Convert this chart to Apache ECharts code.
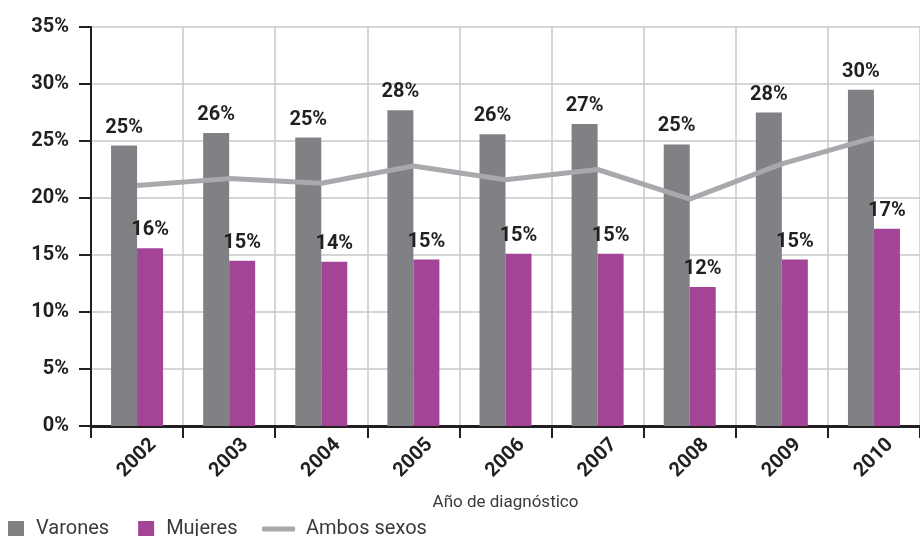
<!DOCTYPE html>
<html>
<head>
<meta charset="utf-8">
<script src="https://cdn.jsdelivr.net/npm/echarts@6/dist/echarts.min.js"></script>
<style>
  html, body { margin: 0; padding: 0; background: #fff; }
  #chart { width: 920px; height: 536px; }
</style>
</head>
<body>
<div id="chart"></div>
<script>
// datos
const years = ['2002', '2003', '2004', '2005', '2006', '2007', '2008', '2009', '2010']
const varones = [24.6, 25.7, 25.3, 27.7, 25.6, 26.5, 24.7, 27.5, 29.5]
const mujeres = [15.6, 14.5, 14.4, 14.6, 15.1, 15.1, 12.2, 14.6, 17.3]
const ambos = [21.1, 21.7, 21.3, 22.8, 21.6, 22.5, 19.9, 23.0, 25.3]
const yTicks = [0, 5, 10, 15, 20, 25, 30, 35]

const font = 'Roboto, "DejaVu Sans", sans-serif'
const dark = '#231f20'
const gridColor = '#c8c8ca'

const barLabel = {
  show: true,
  position: 'top',
  distance: 8,
  color: dark,
  fontFamily: font,
  fontWeight: 'bold',
  fontSize: 20,
  formatter: (p) => Math.round(p.value) + '%'
}

const myChart = echarts.init(document.getElementById('chart'))
myChart.setOption({
  animation: false,
  textStyle: { fontFamily: font },
  grid: {
    left: 91,
    right: 0,
    top: 27,
    bottom: 110
  },
  legend: [
    {
      left: 3,
      top: 514,
      itemWidth: 16,
      itemHeight: 16,
      itemGap: 29,
      icon: 'rect',
      data: ['Varones', 'Mujeres'],
      textStyle: { fontSize: 20, color: '#3a3a3a', padding: [0, 0, 0, 7] }
    },
    {
      left: 257,
      top: 514,
      itemWidth: 33,
      itemHeight: 5,
      icon: 'roundRect',
      data: ['Ambos sexos'],
      textStyle: { fontSize: 20, color: '#3a3a3a', padding: [0, 0, 0, 6] }
    }
  ],
  xAxis: {
    type: 'category',
    data: years,
    name: 'Año de diagnóstico',
    nameLocation: 'middle',
    nameGap: 68,
    nameTextStyle: { fontSize: 17, color: '#3a3a3a' },
    axisLine: { lineStyle: { color: dark, width: 3 } },
    axisTick: { show: true, length: 12, lineStyle: { color: dark, width: 2 } },
    splitLine: { show: true, lineStyle: { color: gridColor, width: 1.5 } },
    axisLabel: {
      rotate: 45,
      align: 'center',
      verticalAlign: 'middle',
      margin: 32,
      color: dark,
      fontWeight: 'bold',
      fontSize: 20
    }
  },
  yAxis: {
    type: 'value',
    min: yTicks[0],
    max: yTicks[yTicks.length - 1],
    interval: 5,
    axisLine: { show: true, lineStyle: { color: dark, width: 2 } },
    axisTick: { show: true, length: 12, lineStyle: { color: dark, width: 2 } },
    splitLine: { show: true, lineStyle: { color: gridColor, width: 1.5 } },
    axisLabel: {
      margin: 22,
      color: dark,
      fontWeight: 'bold',
      fontSize: 20,
      formatter: '{value}%'
    }
  },
  series: [
    {
      name: 'Varones',
      type: 'bar',
      data: varones,
      barWidth: 26,
      barGap: '0%',
      itemStyle: { color: '#808184' },
      label: barLabel
    },
    {
      name: 'Mujeres',
      type: 'bar',
      data: mujeres,
      barWidth: 26,
      itemStyle: { color: '#a34496' },
      label: barLabel
    },
    {
      name: 'Ambos sexos',
      type: 'line',
      data: ambos,
      symbol: 'none',
      z: 5,
      lineStyle: { color: '#a7a9ac', width: 5 },
      itemStyle: { color: '#a7a9ac' }
    }
  ]
})
</script>
</body>
</html>
